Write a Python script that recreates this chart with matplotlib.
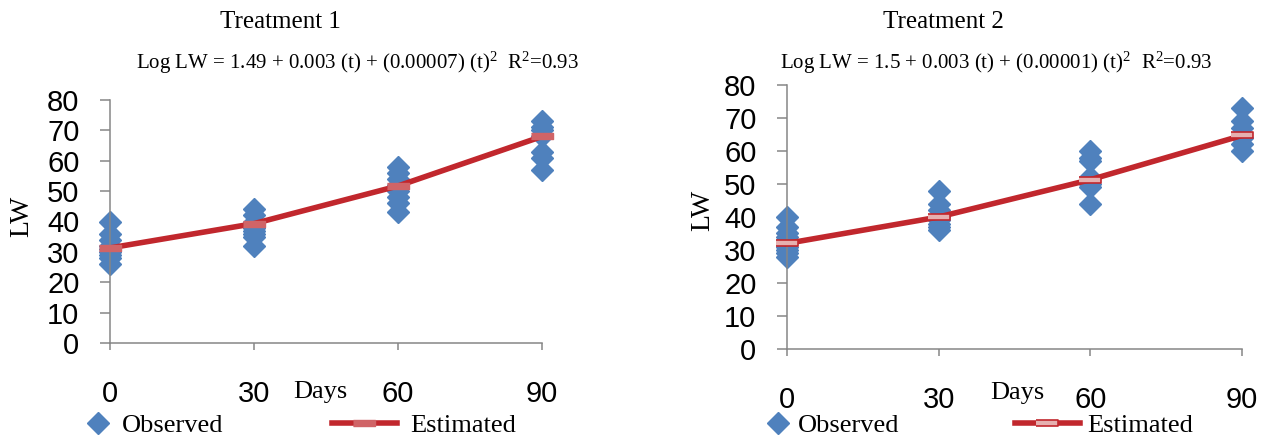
import matplotlib
matplotlib.use("Agg")
import matplotlib.pyplot as plt
import numpy as np

plt.rcParams["mathtext.fontset"] = "custom"
plt.rcParams["mathtext.rm"] = "Liberation Serif"
plt.rcParams["mathtext.it"] = "Liberation Serif:italic"

# datos
dias = [0, 30, 60, 90]

# tratamiento 1 - observados (x, LW)
obs1_x = [0]*9 + [30]*8 + [60]*8 + [90]*7
obs1_y = [40, 36, 34, 32, 31, 30, 29, 28, 26,
          44, 42, 40, 38, 37, 36, 35, 32,
          58, 56, 54, 52, 50, 48, 46, 43,
          73, 71, 70, 68, 63, 61, 57]
est1 = [31.3, 39.3, 51.7, 68.0]

# tratamiento 2 - observados
obs2_x = [0]*9 + [30]*8 + [60]*7 + [90]*6
obs2_y = [40, 37, 35, 34, 33, 31, 30, 29, 28,
          48, 44, 42, 40, 39, 38, 37, 36,
          60, 58, 57, 52, 50, 49, 44,
          73, 69, 67, 64, 62, 60]
est2 = [32.0, 40.0, 51.3, 64.7]

titulos = ["Treatment 1", "Treatment 2"]
ecuaciones = [r"Log LW = 1.49 + 0.003 (t) + (0.00007) (t)$^2$  R$^2$=0.93",
              r"Log LW = 1.5 + 0.003 (t) + (0.00001) (t)$^2$  R$^2$=0.93"]
yticks = [0, 10, 20, 30, 40, 50, 60, 70, 80]

azul = "#4f81bd"
rojo = "#c1272d"
gris = "#868686"
serif = "Liberation Serif"
sans = "Liberation Sans"

W, H = 1266, 437
fig = plt.figure(figsize=(W/100, H/100), dpi=100)

# posiciones en pixeles (x0, x1, y0, y1)
cajas = [(110, 542, 343, 100), (787, 1242, 349, 85)]
rect = [(-1, -0.3), (1, -0.3), (1, 0.3), (-1, 0.3)]

datos = [(obs1_x, obs1_y, est1), (obs2_x, obs2_y, est2)]
for i, (ox, oy, est) in enumerate(datos):
    x0, x1, y0, y1 = cajas[i]
    ax = fig.add_axes([x0/W, (H-y0)/H, (x1-x0)/W, (y0-y1)/H])
    obs, = ax.plot(ox, oy, linestyle="none", marker="D", ms=11,
                   color=azul, mec=azul, clip_on=False, label="Observed", zorder=2)
    if i == 0:
        est_line, = ax.plot(dias, est, color=rojo, lw=4, marker=rect, ms=16.5,
                            mfc="#d06467", mec="#d06467", clip_on=False,
                            label="Estimated", zorder=3)
    else:
        est_line, = ax.plot(dias, est, color=rojo, lw=4, marker=rect, ms=16.5,
                            mfc="#e6b0b0", mec=rojo, mew=1.2, clip_on=False,
                            label="Estimated", zorder=3)
    ax.set_xlim(0, 90)
    ax.set_ylim(0, 80)
    ax.set_xticks(dias)
    ax.set_yticks(yticks)
    for s in ["top", "right"]:
        ax.spines[s].set_visible(False)
    for s in ["left", "bottom"]:
        ax.spines[s].set_color(gris)
        ax.spines[s].set_linewidth(1.1)
    ax.tick_params(axis="y", direction="out", length=7, width=1.1, color=gris,
                   pad=15, labelsize=21)
    ax.tick_params(axis="x", direction="out", length=5, width=1.1, color=gris,
                   pad=22, labelsize=21)
    for lab in ax.get_xticklabels() + ax.get_yticklabels():
        lab.set_family(sans)

    # leyendas
    if i == 0:
        lx1, lx2, pad1, pad2 = 85, 332, 0.38, 0.5
    else:
        lx1, lx2, pad1, pad2 = 765, 1015, 0.23, 0.27
    leg1 = fig.legend(handles=[obs], loc="center left",
                      bbox_to_anchor=(lx1/W, 1-425/H), frameon=False,
                      borderpad=0, borderaxespad=0, handlelength=1.0,
                      handletextpad=pad1, numpoints=1,
                      prop={"family": serif, "size": 19})
    leg2 = fig.legend(handles=[est_line], loc="center left",
                      bbox_to_anchor=(lx2/W, 1-425/H), frameon=False,
                      borderpad=0, borderaxespad=0, handlelength=2.46,
                      handletextpad=pad2, numpoints=1,
                      prop={"family": serif, "size": 19})

# textos
fig.text(280/W, 1-22/H, titulos[0], ha="center", va="center", family=serif, fontsize=18)
fig.text(943/W, 1-22/H, titulos[1], ha="center", va="center", family=serif, fontsize=18)
fig.text(357/W, 1-63/H, ecuaciones[0], ha="center", va="center", family=serif, fontsize=15)
fig.text(996/W, 1-63/H, ecuaciones[1], ha="center", va="center", family=serif, fontsize=15)
fig.text(22/W, 1-216/H, "LW", rotation=90, ha="center", va="center", family=serif, fontsize=20)
fig.text(703/W, 1-210/H, "LW", rotation=90, ha="center", va="center", family=serif, fontsize=20)
fig.text(320/W, 1-392/H, "Days", ha="center", va="center", family=serif, fontsize=19)
fig.text(1017/W, 1-393/H, "Days", ha="center", va="center", family=serif, fontsize=19)

plt.savefig("out.png", dpi=100)
